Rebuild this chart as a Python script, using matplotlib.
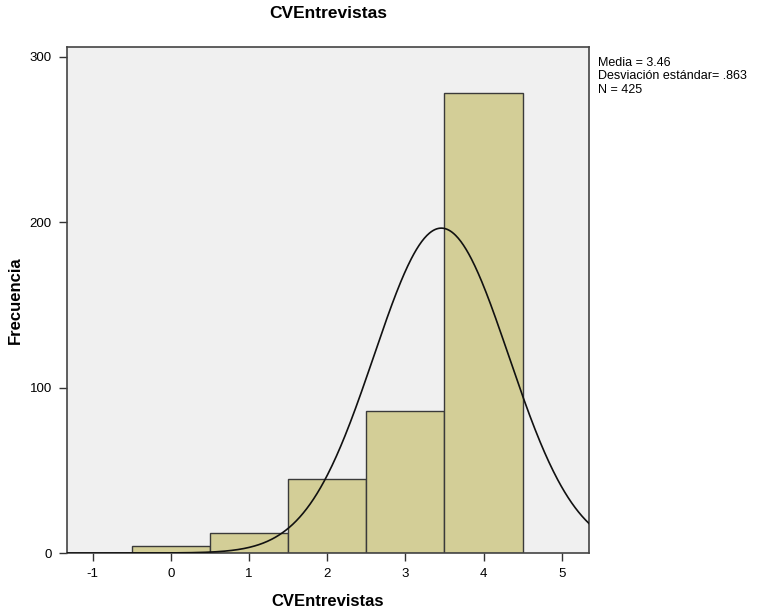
import numpy as np
import matplotlib
matplotlib.use("Agg")
import matplotlib.pyplot as plt

plt.rcParams['font.family'] = ['Liberation Sans', 'DejaVu Sans']

# Data
bin_centers = [0, 1, 2, 3, 4]
frequencies = [4, 12, 45, 86, 278]
mean = 3.46
std = 0.863
n = 425
x_ticks = [-1, 0, 1, 2, 3, 4, 5]
y_ticks = [0, 100, 200, 300]

fig = plt.figure(figsize=(7.64, 6.12), dpi=100)
ax = fig.add_axes([67/764, 1-553/612, (589-67)/764, (553-47)/612])
ax.set_facecolor('#F0F0F0')

ax.bar(bin_centers, frequencies, width=1.0, color='#D3CE97', edgecolor='#3a3a3a',
       linewidth=1.0, zorder=2)

xs = np.linspace(-1.33, 5.35, 600)
ys = n * 1.0 / (std * np.sqrt(2*np.pi)) * np.exp(-0.5*((xs-mean)/std)**2)
ax.plot(xs, ys, color='#111111', linewidth=1.2, zorder=3)

ax.set_xlim(-1.33, 5.35)
ax.set_ylim(0, 306)
ax.set_xticks(x_ticks)
ax.set_xticklabels([str(t) for t in x_ticks])
ax.set_yticks(y_ticks)
ax.tick_params(direction='out', length=6, width=1, colors='#333333', labelsize=9.5,
               labelcolor='black', pad=5)
for s in ax.spines.values():
    s.set_color('#444444')
    s.set_linewidth(1.2)

fig.text(328/764, 1-13/612, 'CVEntrevistas', fontsize=12.5, fontweight='bold',
         ha='center', va='center')
fig.text(328/764, 1-601/612, 'CVEntrevistas', fontsize=12, fontweight='bold',
         ha='center', va='center')
fig.text(15/764, 1-300/612, 'Frecuencia', fontsize=12, fontweight='bold',
         ha='center', va='center', rotation=90)

fig.text(598/764, 1-57/612, 'Media = 3.46\nDesviación estándar= .863\nN = 425',
         fontsize=9, va='top', ha='left', linespacing=1.15)

fig.savefig('out.png', dpi=100)
